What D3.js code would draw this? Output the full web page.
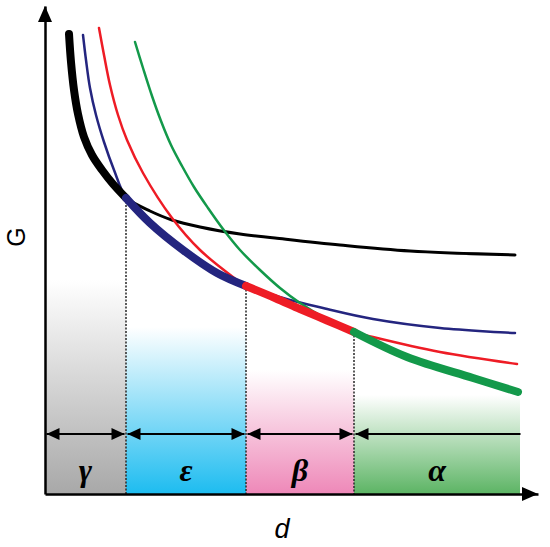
<!DOCTYPE html>
<html><head><meta charset="utf-8">
<script src="https://cdn.jsdelivr.net/npm/d3@7"></script>
<style>body{margin:0;background:#fff}svg{display:block}</style>
</head><body><svg id="c" width="550" height="547"></svg>
<script>
// ---- data ----
const blackD = [24, 26, 29, 33, 39, 47, 57, 68, 81, 105, 127, 155, 195, 230, 295, 365, 470];
const blackG = [460, 432, 404, 380, 357, 339, 324, 310, 296, 283, 274, 267, 260, 256, 249, 243, 239];
const blueD  = [38, 41, 45, 51, 59, 69, 81, 105, 138, 172, 201, 245, 278, 328, 395, 470];
const blueG  = [459, 434, 406, 379, 352, 324, 296, 271, 244, 221, 208, 194, 186, 175, 166, 161];
const redD   = [54, 59, 65, 73, 82, 98, 127, 155, 188, 201, 230, 255, 282, 309, 328, 395, 472];
const redG   = [466, 439, 409, 379, 354, 321, 276, 244, 217, 208, 196, 185, 173.5, 162, 157, 142, 130];
const greenD = [90, 98, 107, 116, 126, 137, 149, 163, 178, 195, 215, 235, 255, 280, 309, 362, 428, 473];
const greenG = [452, 426, 398, 373, 349, 328, 307, 286, 265, 244, 224, 206, 191, 176, 162, 137, 116, 102];

const regionBounds = [0, 81, 201, 309, 475];
const regionLabels = ["γ", "ε", "β", "α"];
const regionTops   = [214, 167, 124, 99];
const regionColors = ["#a8a8a8", "#1dbcf0", "#ee88b8", "#5cb464"];
const arrowLevel = 60, labelLevel = 24;

// ---- scales ----
const x = d3.scaleLinear().domain([0, 493]).range([45, 538]);
const y = d3.scaleLinear().domain([0, 488]).range([494, 6]);
const svg = d3.select("#c");
const defs = svg.append("defs");

// regions
regionLabels.forEach((lab, i) => {
  const g = defs.append("linearGradient").attr("id", "g" + i)
    .attr("x1", 0).attr("y1", 0).attr("x2", 0).attr("y2", 1);
  g.append("stop").attr("offset", 0).attr("stop-color", regionColors[i]).attr("stop-opacity", 0);
  g.append("stop").attr("offset", 1).attr("stop-color", regionColors[i]).attr("stop-opacity", 1);
  svg.append("rect")
    .attr("x", x(regionBounds[i])).attr("y", y(regionTops[i]))
    .attr("width", x(regionBounds[i + 1]) - x(regionBounds[i]))
    .attr("height", y(0) - y(regionTops[i]))
    .attr("fill", "url(#g" + i + ")");
});

// series
const series = [
  {d: blackD, g: blackG, color: "#000000", w: 3, thick: [0, 81]},
  {d: blueD,  g: blueG,  color: "#24257f", w: 2.5, thick: [81, 201]},
  {d: redD,   g: redG,   color: "#ee1c25", w: 2.5, thick: [201, 309]},
  {d: greenD, g: greenG, color: "#13994a", w: 2.5, thick: [309, 999]}
];
const line = d3.line().x(p => x(p[0])).y(p => y(p[1])).curve(d3.curveCatmullRom.alpha(0.5));

// dotted separators
[1, 2, 3].forEach(i => {
  const b = regionBounds[i];
  const s = series[i];
  const idx = s.d.indexOf(b);
  svg.append("line")
    .attr("x1", x(b)).attr("x2", x(b))
    .attr("y1", y(s.g[idx])).attr("y2", y(0))
    .attr("stroke", "#333").attr("stroke-width", 1.6)
    .attr("stroke-dasharray", "2,1.5");
});

series.forEach(s => {
  const pts = s.d.map((d, i) => [d, s.g[i]]);
  svg.append("path").attr("d", line(pts)).attr("fill", "none")
    .attr("stroke", s.color).attr("stroke-width", s.w).attr("stroke-linecap", "round");
});
series.forEach(s => {
  const pts = s.d.map((d, i) => [d, s.g[i]]).filter(p => p[0] >= s.thick[0] && p[0] <= s.thick[1]);
  svg.append("path").attr("d", line(pts)).attr("fill", "none")
    .attr("stroke", s.color).attr("stroke-width", 8).attr("stroke-linecap", "round");
});

// region arrows
function head(xTip, yy, dir) {
  const L = 13, H = 6;
  svg.append("path")
    .attr("d", `M${xTip},${yy} L${xTip - dir * L},${yy - H} L${xTip - dir * L},${yy + H} Z`)
    .attr("fill", "#000");
}
const ay = y(arrowLevel);
regionLabels.forEach((lab, i) => {
  const x0 = x(regionBounds[i]) + 1.5;
  const x1 = x(regionBounds[i + 1]) - 1.5;
  svg.append("line").attr("x1", x0).attr("x2", i === 3 ? x1 + 2 : x1)
    .attr("y1", ay).attr("y2", ay).attr("stroke", "#000").attr("stroke-width", 2);
  head(x0, ay, -1);
  if (i < 3) head(x1, ay, 1);
  svg.append("text")
    .attr("x", (x(regionBounds[i]) + x(regionBounds[i + 1])) / 2)
    .attr("y", y(labelLevel))
    .attr("text-anchor", "middle").attr("dominant-baseline", "central")
    .attr("font-family", "'Liberation Serif', 'DejaVu Serif', serif")
    .attr("font-style", "italic").attr("font-weight", "bold")
    .attr("font-size", 32).attr("fill", "#000").text(lab);
});

// axes
svg.append("g").attr("transform", `translate(0,${y(0)})`)
  .call(d3.axisBottom(x).tickValues([]).tickSizeOuter(0));
svg.append("g").attr("transform", `translate(${x(0)},0)`)
  .call(d3.axisLeft(y).tickValues([]).tickSizeOuter(0));
svg.selectAll(".domain").attr("stroke", "#000").attr("stroke-width", 2.5);
// arrowheads
svg.append("path")
  .attr("d", `M${x(493)},${y(0)} L${x(493) - 16},${y(0) - 7} L${x(493) - 16},${y(0) + 7} Z`).attr("fill", "#000");
svg.append("path")
  .attr("d", `M${x(0)},${y(488)} L${x(0) - 7},${y(488) + 16} L${x(0) + 7},${y(488) + 16} Z`).attr("fill", "#000");

// axis titles
svg.append("text").attr("x", 282).attr("y", 529)
  .attr("text-anchor", "middle").attr("dominant-baseline", "central")
  .attr("font-family", "'Liberation Sans', Arial, sans-serif").attr("font-style", "italic")
  .attr("font-size", 27).text("d");
svg.append("text").attr("transform", "translate(16,237) rotate(-90)")
  .attr("text-anchor", "middle").attr("dominant-baseline", "central")
  .attr("font-family", "'Liberation Sans', Arial, sans-serif")
  .attr("font-size", 25).text("G");
</script></body></html>
